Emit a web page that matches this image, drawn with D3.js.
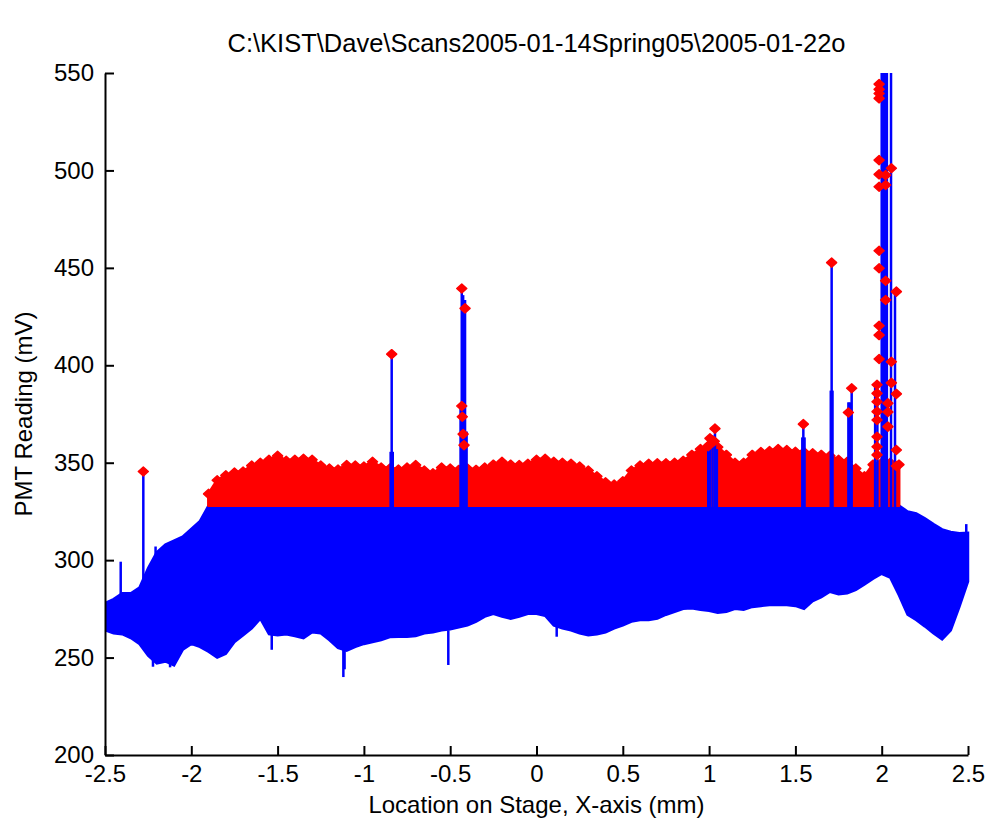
<!DOCTYPE html>
<html>
<head>
<meta charset="utf-8">
<title>PMT scan</title>
<script src="https://d3js.org/d3.v7.min.js"></script>
<style>
  body { margin: 0; background: #fff; }
  svg text { font-family: "Liberation Sans", Arial, sans-serif; }
</style>
</head>
<body>
<div id="chart"></div>
<script>
// stage position of the envelope samples (mm)
let gridX = [-2.5,-2.45,-2.4,-2.35,-2.3,-2.25,-2.2,-2.15,-2.1,-2.05,
  -2,-1.95,-1.9,-1.85,-1.8,-1.75,-1.7,-1.65,-1.6,-1.55,
  -1.5,-1.45,-1.4,-1.35,-1.3,-1.25,-1.2,-1.15,-1.1,-1.05,
  -1,-0.95,-0.9,-0.85,-0.8,-0.75,-0.7,-0.65,-0.6,-0.55,
  -0.5,-0.45,-0.4,-0.35,-0.3,-0.25,-0.2,-0.15,-0.1,-0.05,
  0,0.05,0.1,0.15,0.2,0.25,0.3,0.35,0.4,0.45,
  0.5,0.55,0.6,0.65,0.7,0.75,0.8,0.85,0.9,0.95,
  1,1.05,1.1,1.15,1.2,1.25,1.3,1.35,1.4,1.45,
  1.5,1.55,1.6,1.65,1.7,1.75,1.8,1.85,1.9,1.95,
  2,2.05,2.1,2.15,2.2,2.25,2.3,2.35,2.4,2.45,2.5];

// readings above this level are flagged with red markers
let redLevel = 328;

// upper edge of the blue traces (null where the red markers sit on top)
let bandTop = [278,280,283,283,286,296,304,308,310,312,
  316,320,null,null,null,null,null,null,null,null,
  null,null,null,null,null,null,null,null,null,null,
  null,null,null,null,null,null,null,null,null,null,
  null,null,null,null,null,null,null,null,null,null,
  null,null,null,null,null,null,null,null,null,null,
  null,null,null,null,null,null,null,null,null,null,
  null,null,null,null,null,null,null,null,null,null,
  null,null,null,null,null,null,null,null,null,null,
  null,null,null,325,324,321.5,318.5,315.8,314.5,313.8,314];

// lower edge of the blue traces
let bandBottom = [264,262.5,262,260,257,251,247,248,246,254,
  257,255.5,253,250,252,258,261.5,265,270,262,
  261.5,262,261,260,263,262.5,259,255,253.5,255.5,
  257,258,259,260.5,260.7,260.7,261,262.5,263,264,
  264.5,265.5,266.5,268.4,271,272.5,271,270,271,272.5,
  272.5,271.5,266.5,265,264,262.5,261.5,262,263,265,
  266.5,268.5,269.3,269.3,270,272,273.5,275,275.3,274.5,
  274,273,273.5,275,274.5,276,276.5,277,277,277,
  276.5,275,279,281,283.8,282.5,283,284.7,287.5,290.5,
  293,291,282,272,269.3,266,262.5,259.3,264,276,289];

// upper edge of the red marker cloud
let redTop = [null,null,null,null,null,null,null,null,null,null,
  null,null,334,341,343.5,345,345.5,348.5,350,351.5,
  353.5,351,351.5,352,351.5,348.5,347,346.5,348.8,348.5,
  348,350.5,347.5,347,346.5,347.5,348.8,346,344.6,347.5,
  347,346.3,347,346.3,347.5,349,350.5,349,348.8,349.5,
  351.5,352,350.5,350,349.5,348,346,343,340,338.8,
  340.5,346,348.5,349.5,349.7,349.7,350,351,354,357,
  359,358,354,350,350,354,355.5,356,357,356.5,
  355.6,355.5,354.8,354,353.5,351.5,350.5,347,343,349,
  350,350,349,null,null,null,null,null,null,null,null];

// isolated upward spikes: position, start, peak (mV)
let spikeX    = [-2.409,-2.207,-2.278,-0.845,-0.839,-0.833,-0.44,-0.433,-0.425,-0.414,-0.405,
  0.995,1.005,1.02,1.034,1.045,1.54,1.546,1.553,1.705,1.71,1.715,1.807,1.815,1.826,
  1.962,1.975,2.0,2.01,2.02,2.03,2.054,2.077,2.49];
let spikeBase = [281,300,288,325,325,325,325,325,325,325,325,
  325,325,325,325,325,325,325,325,325,325,325,325,325,325,
  325,325,325,325,325,325,325,325,310];
let spikeTop  = [299.2,307,345.5,355.6,405.7,355.6,380,439.4,436,433.5,366,
  359,362.5,364,367.5,357,363,369.8,363,387,452.7,387,381,381,388.2,
  390,389,560,560,560,560,560,437.8,318.5];

// isolated downward spikes: position, start, lowest reading
let dipX      = [-2.222,-2.123,-1.534,-1.119,-1.112,-0.511,0.117];
let dipBase   = [252,250,262,255,255,264,267];
let dipBottom = [245.3,245,254,240,244,246.2,260.7];

// red markers on the spikes
let markX = [-2.278,-0.839,-0.433,-0.414,-0.433,-0.43,-0.425,-0.42,
  1.005,1.034,1.03,0.995,1.546,1.71,1.826,1.807,
  1.985,1.985,1.985,1.985,1.985,1.985,1.985,1.985,1.985,1.985,1.985,1.985,
  2.023,2.023,2.023,2.023,2.056,2.056,2.056,2.085,2.085,2.085,2.085,
  1.973,1.973,1.973,1.973,1.973,1.973,1.973,1.973,2.036,2.036,2.036];
let markY = [345.5,405.7,439.4,429.2,379.1,373.6,364.7,359,
  362.5,367.5,361,358.5,369.8,452.7,388.2,375.8,
  544.3,541.6,539.5,537,505.3,498,491.6,458.8,449.8,420.3,415.5,403.2,
  443.4,433.5,497.6,492.5,501.1,401.8,391,437.8,385.3,356.5,348.3,
  390,385.6,381.3,376.2,371.9,363.3,358.2,354,380.5,376,368.5];

let xTicks = [-2.5,-2,-1.5,-1,-0.5,0,0.5,1,1.5,2,2.5];
let yTicks = [200,250,300,350,400,450,500,550];

let titleText = "C:\\KIST\\Dave\\Scans2005-01-14Spring05\\2005-01-22o";

let margin = {top: 73, right: 25, bottom: 73, left: 105};
let W = 993, H = 828;
let w = W - margin.left - margin.right;
let h = H - margin.top - margin.bottom;

let xScale = d3.scaleLinear().domain([-2.5, 2.5]).range([0, w]);
let yScale = d3.scaleLinear().domain([200, 550]).range([h, 0]);

let blue = "#0000ff", red = "#ff0000";
let fontSize = 24;

let svg = d3.select("#chart")
    .append("svg")
    .attr("width", W)
    .attr("height", H)
    .style("display", "block")
    .style("background", "#fff");

let g = svg.append("g")
    .attr("transform", "translate(" + margin.left + "," + margin.top + ")");

g.append("clipPath").attr("id", "plotclip")
  .append("rect").attr("x", 0).attr("y", 0).attr("width", w + 2).attr("height", h);

let plot = g.append("g").attr("clip-path", "url(#plotclip)");

let rows = gridX.map(function(x, i) {
  return {x: x, top: bandTop[i] == null ? redLevel : bandTop[i], bottom: bandBottom[i], red: redTop[i]};
});

// blue band of all the traces
let band = d3.area()
    .x(function(d) { return xScale(d.x); })
    .y0(function(d) { return yScale(d.bottom); })
    .y1(function(d) { return yScale(d.top); });

plot.append("path")
    .datum(rows)
    .attr("d", band)
    .attr("fill", blue)
    .attr("stroke", blue)
    .attr("stroke-width", 2.5)
    .attr("stroke-linejoin", "miter");

// downward spikes
plot.selectAll("line.dip")
    .data(dipX)
    .enter()
    .append("line")
    .attr("class", "dip")
    .attr("x1", function(d) { return xScale(d); })
    .attr("x2", function(d) { return xScale(d); })
    .attr("y1", function(d, i) { return yScale(dipBase[i]); })
    .attr("y2", function(d, i) { return yScale(dipBottom[i]); })
    .attr("stroke", blue)
    .attr("stroke-width", 2.5);

// red marker cloud above the threshold
let redArea = d3.area()
    .defined(function(d) { return d.red != null; })
    .x(function(d) { return xScale(d.x); })
    .y0(yScale(redLevel))
    .y1(function(d) { return yScale(d.red); });

plot.append("path")
    .datum(rows)
    .attr("d", redArea)
    .attr("fill", red)
    .attr("stroke", red)
    .attr("stroke-width", 3)
    .attr("stroke-linejoin", "round");

function diamond(cx, cy) {
  return "M" + (cx - 5) + "," + cy + "L" + cx + "," + (cy - 4.5) +
    "L" + (cx + 5) + "," + cy + "L" + cx + "," + (cy + 4.5) + "Z";
}

// markers along the top of the cloud give it its ragged edge
plot.selectAll("path.edge")
    .data(rows.filter(function(d) { return d.red != null; }))
    .enter()
    .append("path")
    .attr("class", "edge")
    .attr("d", function(d) { return diamond(xScale(d.x), yScale(d.red)); })
    .attr("fill", red)
    .attr("stroke", red)
    .attr("stroke-width", 1.5)
    .attr("stroke-linejoin", "round");

// upward spikes
plot.selectAll("line.spike")
    .data(spikeX)
    .enter()
    .append("line")
    .attr("class", "spike")
    .attr("x1", function(d) { return xScale(d); })
    .attr("x2", function(d) { return xScale(d); })
    .attr("y1", function(d, i) { return yScale(spikeBase[i]); })
    .attr("y2", function(d, i) { return yScale(spikeTop[i]); })
    .attr("stroke", blue)
    .attr("stroke-width", 2.5);

// markers on the spikes
plot.selectAll("path.mark")
    .data(markX)
    .enter()
    .append("path")
    .attr("class", "mark")
    .attr("d", function(d, i) { return diamond(xScale(markX[i]), yScale(markY[i])); })
    .attr("fill", red)
    .attr("stroke", red)
    .attr("stroke-width", 1.5)
    .attr("stroke-linejoin", "round");

// axes
let xAxis = d3.axisBottom(xScale)
    .tickValues(xTicks)
    .tickFormat(function(d) { return String(d); })
    .tickSizeInner(-9)
    .tickSizeOuter(0)
    .tickPadding(10);
let yAxis = d3.axisLeft(yScale)
    .tickValues(yTicks)
    .tickFormat(function(d) { return String(d); })
    .tickSizeInner(-9)
    .tickSizeOuter(0)
    .tickPadding(11);

let gx = g.append("g")
    .attr("transform", "translate(0," + h + ")")
    .call(xAxis);
let gy = g.append("g")
    .call(yAxis);

[gx, gy].forEach(function(a) {
  a.selectAll("path, line").attr("stroke", "#000").attr("stroke-width", 2);
  a.selectAll("text")
    .attr("fill", "#000")
    .style("font-size", fontSize + "px")
    .style("font-family", "'Liberation Sans', Arial, sans-serif");
});

// title
svg.append("text")
    .attr("x", margin.left + w / 2)
    .attr("y", 52)
    .attr("text-anchor", "middle")
    .attr("font-size", "25.5px")
    .text(titleText);

// x axis title
svg.append("text")
    .attr("x", margin.left + w / 2)
    .attr("y", 813)
    .attr("text-anchor", "middle")
    .attr("font-size", fontSize + "px")
    .text("Location on Stage, X-axis (mm)");

// y axis title
svg.append("text")
    .attr("transform", "translate(32," + (margin.top + h / 2) + ") rotate(-90)")
    .attr("text-anchor", "middle")
    .attr("font-size", fontSize + "px")
    .text("PMT Reading (mV)");
</script>
</body>
</html>
